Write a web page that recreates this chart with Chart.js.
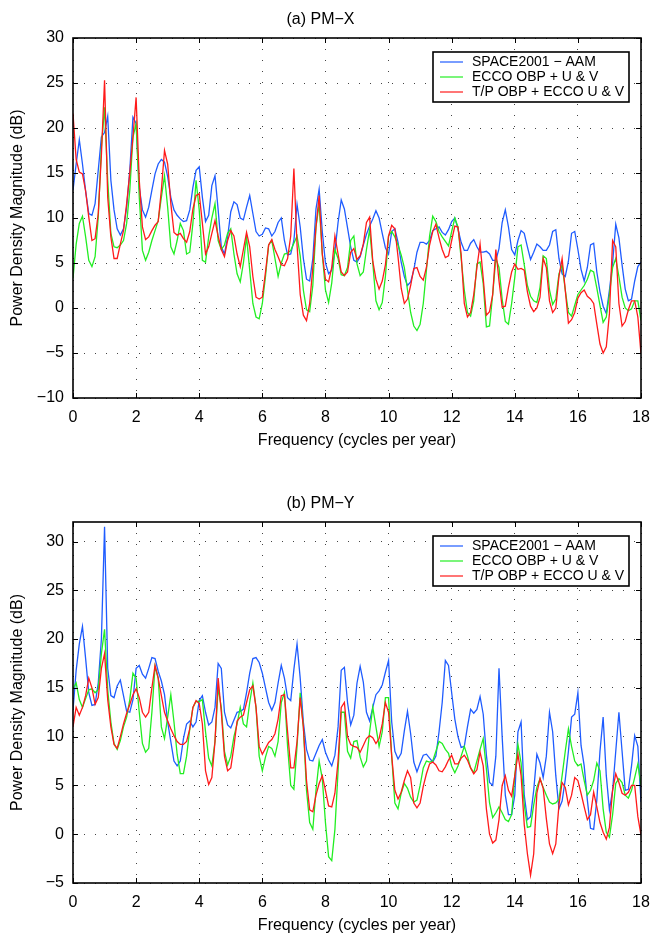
<!DOCTYPE html>
<html>
<head>
<meta charset="utf-8">
<script src="https://cdn.jsdelivr.net/npm/chart.js@4"></script>
<style>
  body { margin: 0; background: #fff; }
  canvas { display: block; }
</style>
</head>
<body>
<canvas id="pmx" width="652" height="468"></canvas>
<canvas id="pmy" width="652" height="468"></canvas>
<script>
// frequency grid, cycles per year (0 .. 18, step 0.1)
const freq = Array.from({ length: 181 }, (_, i) => i / 10);

const seriesNames = ['SPACE2001 \u2212 AAM', 'ECCO OBP + U & V', 'T/P OBP + ECCO U & V'];

// (a) PM-X, dB
const pmxSpace = [
  13.1,16.0,18.7,16.0,13.0,10.5,10.3,11.6,15.3,19.0,
  19.5,21.3,14.2,10.9,8.8,8.1,8.8,11.2,15.3,21.2,
  20.5,13.4,10.9,10.1,11.2,13.1,14.9,16.0,16.5,16.2,
  14.6,12.3,10.9,10.3,9.9,9.6,9.7,10.9,13.4,15.3,
  15.7,12.3,9.6,10.3,13.6,14.7,10.9,6.8,6.0,7.9,
  10.7,11.8,11.5,10.0,9.8,11.2,12.5,10.5,8.5,8.0,
  8.2,8.9,8.8,8.0,8.5,9.5,10.0,7.5,5.9,6.0,
  7.5,11.5,9.0,5.5,3.2,3.0,5.5,11.0,13.2,8.5,
  5.0,3.8,4.2,6.3,9.5,12.0,11.0,8.9,6.8,5.3,
  5.1,5.7,7.0,8.2,9.1,9.9,10.8,10.0,8.3,6.7,
  6.0,8.5,8.8,7.3,5.1,3.5,2.5,2.9,4.2,6.2,
  7.3,7.3,7.1,7.5,8.6,8.8,9.0,8.4,8.1,8.7,
  9.6,10.0,8.8,7.3,6.4,6.4,7.2,7.6,6.8,6.2,
  6.2,6.3,6.0,5.3,5.3,6.6,9.5,10.9,9.0,6.5,
  5.9,7.5,8.6,8.3,6.8,5.4,6.2,7.1,6.8,6.4,
  6.4,7.0,8.5,8.7,5.5,3.8,3.5,5.2,8.3,8.5,
  6.5,4.3,3.0,4.5,7.0,7.2,4.0,1.8,0.2,-0.6,
  2.0,5.0,9.3,7.8,4.8,2.1,0.8,1.0,3.0,4.6,
  5.1
];
const pmxEcco = [
  3.3,7.1,9.4,10.2,7.9,5.3,4.6,5.7,10.1,17.9,
  22.3,14.2,8.3,6.8,6.7,7.0,7.5,9.4,13.1,19.0,
  20.5,12.3,6.4,5.3,6.2,7.5,8.6,9.7,12.3,14.7,
  11.2,6.8,6.0,7.5,9.4,8.6,6.0,6.2,9.4,14.2,
  10.9,5.3,5.1,7.9,10.0,11.6,7.5,6.5,7.0,8.3,
  8.8,6.0,3.8,2.9,5.0,7.9,4.2,0.5,-1.0,-1.2,
  0.5,3.5,7.0,7.5,5.5,3.5,5.0,6.0,6.1,6.4,
  7.2,8.0,5.8,2.0,-0.2,-0.4,2.5,9.0,11.5,6.0,
  2.0,0.6,2.8,6.5,5.5,3.7,3.6,4.5,7.5,8.0,
  4.9,3.6,4.0,6.5,8.7,5.0,0.8,-0.2,0.6,3.5,
  8.0,8.5,7.9,7.0,5.9,4.5,2.0,-0.5,-2.0,-2.5,
  -1.8,0.5,4.2,8.0,10.2,9.6,8.5,7.9,7.4,6.9,
  8.5,10.0,9.0,5.5,2.0,-0.5,-0.9,0.8,4.9,5.1,
  2.7,-2.1,-2.0,1.5,5.5,4.5,1.0,-1.5,-1.8,0.5,
  3.4,6.8,7.0,4.8,2.5,1.3,0.8,0.6,2.3,5.8,
  5.5,2.0,0.4,1.0,3.8,4.8,2.0,-0.5,-0.9,0.3,
  1.5,2.0,2.5,3.2,4.2,4.0,2.2,0.3,-1.6,-1.0,
  1.5,4.5,5.5,3.5,1.2,0.0,-0.3,-0.1,0.8,0.8,
  -1.4
];
const pmxTp = [
  21.6,16.5,15.1,14.9,13.0,10.1,7.5,7.7,10.5,17.0,
  25.3,12.3,7.9,5.5,5.5,7.1,8.6,11.6,15.0,19.0,
  23.4,14.2,9.0,7.6,7.9,8.6,9.2,9.6,13.1,17.5,
  16.0,11.6,8.4,8.1,8.3,7.7,7.3,8.5,11.0,12.5,
  12.7,9.4,6.0,6.8,8.3,9.7,8.0,6.5,5.7,7.5,
  8.6,8.0,6.0,4.6,6.5,8.4,6.8,3.5,1.2,1.0,
  1.2,4.0,7.0,7.6,6.5,5.7,4.8,4.7,5.5,8.0,
  15.5,7.0,1.5,-0.8,-1.4,0.5,4.5,9.0,12.5,6.0,
  3.2,2.9,4.5,8.0,6.0,4.0,3.6,4.0,6.2,6.6,
  5.4,5.8,7.1,9.5,10.1,5.2,3.2,2.1,3.0,4.8,
  8.0,9.2,8.8,5.7,2.2,0.5,1.0,2.5,4.4,4.5,
  3.5,3.1,4.5,7.0,8.5,9.3,7.8,6.5,5.6,5.8,
  7.5,9.1,9.0,6.0,0.5,-1.0,-0.5,1.5,4.5,7.1,
  3.3,-0.8,-0.4,1.5,6.5,3.0,0.1,0.2,2.3,4.0,
  4.9,4.3,4.4,4.2,1.8,0.2,-0.4,0.0,1.2,5.5,
  4.5,0.8,-0.5,0.0,3.5,5.5,2.0,-1.7,-1.3,-0.5,
  1.1,1.7,2.0,1.3,1.0,0.5,-1.8,-4.0,-5.0,-4.3,
  -0.6,7.5,6.8,0.5,-2.0,-1.5,-0.2,0.8,0.8,-1.0,
  -5.1
];

// (b) PM-Y, dB
const pmySpace = [
  12.7,16.8,19.5,21.3,18.0,14.5,13.2,13.3,15.5,20.0,
  31.5,17.0,14.2,14.0,15.2,15.8,14.2,12.6,12.5,13.8,
  17.0,17.3,16.4,16.0,17.0,18.1,18.0,16.7,15.7,14.3,
  11.5,9.5,7.5,7.0,7.5,9.8,11.3,11.6,11.0,11.5,
  13.7,14.2,12.5,11.2,11.5,13.0,17.5,17.0,12.5,11.2,
  10.9,11.7,12.5,12.6,12.8,14.5,16.5,18.0,18.1,17.6,
  16.5,15.0,13.5,12.7,13.5,15.5,17.3,16.0,14.0,13.7,
  16.9,19.5,16.0,11.5,8.7,7.6,7.5,8.3,9.1,9.7,
  8.4,7.6,7.0,8.1,11.0,16.8,17.1,13.5,11.2,12.2,
  15.5,17.2,15.6,12.5,11.6,13.0,14.3,14.7,15.3,16.6,
  17.8,11.5,8.5,7.7,8.3,10.6,12.6,10.3,7.4,6.4,
  7.3,8.1,8.2,7.8,7.4,8.0,10.5,13.5,17.8,17.3,
  14.5,11.8,10.0,8.9,9.0,11.0,12.8,12.4,12.8,14.1,
  12.3,8.1,5.3,5.0,8.0,17.0,10.0,4.0,2.0,2.0,
  4.0,10.5,11.5,4.0,1.5,1.8,4.5,8.2,7.3,5.8,
  8.0,12.5,10.5,6.0,2.6,3.4,5.6,8.5,12.0,12.3,
  14.5,9.1,7.0,3.5,0.6,0.5,3.5,8.5,12.0,6.0,
  2.5,4.5,8.5,12.5,8.5,4.5,4.6,7.0,10.1,9.0,
  3.3
];
const pmyEcco = [
  14.9,15.5,13.8,13.0,13.9,14.8,14.9,14.5,14.8,18.5,
  21.0,14.8,11.5,9.3,8.7,9.6,11.0,12.0,13.8,16.5,
  16.0,12.5,9.3,8.4,8.8,12.5,17.2,16.0,11.0,9.8,
  12.0,14.3,11.5,8.2,6.2,6.2,8.0,10.8,13.0,13.6,
  13.6,13.8,10.5,7.8,7.0,9.5,15.0,13.0,8.5,7.1,
  8.0,10.0,11.3,13.0,11.3,11.0,13.5,15.5,13.0,8.0,
  6.5,7.9,9.0,8.8,8.0,9.5,13.5,14.5,9.0,5.0,
  4.6,9.0,14.5,11.0,4.5,1.2,0.5,4.5,7.5,5.7,
  1.2,-2.3,-2.7,0.5,6.5,12.5,12.5,8.5,7.8,9.5,
  9.6,7.9,6.9,7.5,10.5,13.0,11.0,9.0,10.5,14.0,
  14.0,8.0,3.2,2.6,4.2,5.2,4.7,3.8,3.3,3.5,
  5.0,6.8,7.5,7.4,7.5,8.5,9.5,9.3,8.7,8.3,
  7.0,6.3,7.0,8.0,9.0,8.0,6.8,6.3,7.5,8.7,
  9.8,6.7,3.2,1.7,2.2,2.8,2.2,1.5,1.3,2.0,
  6.0,9.2,7.3,3.0,0.7,0.8,3.0,4.8,5.7,4.8,
  4.0,3.3,3.1,3.2,3.6,6.0,8.5,10.8,9.0,7.5,
  7.0,7.2,5.5,4.0,4.5,5.5,7.3,6.5,2.6,0.2,
  -0.3,2.0,5.2,5.7,5.3,4.0,3.7,4.5,5.8,7.2,
  5.0
];
const pmyTp = [
  11.0,13.0,12.2,13.0,14.2,16.0,15.0,13.3,14.0,17.0,
  18.5,13.8,11.0,9.2,8.8,10.0,11.3,12.4,13.3,14.3,
  14.9,14.0,12.5,12.0,12.5,15.0,17.3,16.0,14.2,12.5,
  11.6,10.8,10.1,9.5,9.2,9.2,9.5,10.8,13.0,13.7,
  13.4,11.3,6.5,5.1,5.8,9.5,16.0,12.5,8.0,6.5,
  6.8,9.0,11.6,12.0,12.2,13.5,14.8,15.2,13.0,9.0,
  8.2,8.8,9.4,9.7,10.3,11.8,14.2,14.3,10.5,6.8,
  6.8,9.5,14.0,11.0,5.5,2.5,2.3,4.0,5.2,6.0,
  4.5,2.9,2.8,4.2,7.5,13.0,13.5,10.0,9.2,9.0,
  8.9,8.4,9.1,9.8,10.1,9.9,9.3,9.8,11.3,13.5,
  12.5,8.0,4.5,3.6,4.3,5.5,6.5,5.8,3.2,2.7,
  3.2,4.9,6.2,7.2,7.4,7.1,6.5,6.4,6.9,7.6,
  8.1,7.2,7.2,7.8,8.1,7.6,6.8,6.2,6.6,8.4,
  7.0,2.6,0.0,-0.9,-0.6,1.5,5.0,6.0,4.5,3.9,
  6.0,8.2,6.0,1.0,-2.0,-4.2,-2.0,4.2,5.7,4.7,
  1.6,-1.0,-2.0,-1.0,3.0,5.3,4.8,3.0,4.0,5.8,
  5.5,4.2,2.8,1.5,2.0,4.3,2.8,1.2,0.2,-0.5,
  0.7,4.5,6.2,5.3,4.2,4.0,4.3,5.0,5.0,1.8,
  -0.1
];

const colors = ['#1f5cff', '#22ee22', '#ff1a1a'];
const FONT = '"Liberation Sans", Arial, Helvetica, sans-serif';
Chart.defaults.font.family = FONT;
Chart.defaults.color = '#000';

// MATLAB-like box with inward ticks
const frame = {
  id: 'frame',
  afterDraw(chart) {
    const { ctx, chartArea: a, scales } = chart;
    ctx.save();
    ctx.strokeStyle = '#000';
    ctx.lineWidth = 1;
    ctx.beginPath();
    scales.x.ticks.forEach(t => {
      const px = Math.round(scales.x.getPixelForValue(t.value)) + 0.5;
      ctx.moveTo(px, a.bottom); ctx.lineTo(px, a.bottom - 5);
      ctx.moveTo(px, a.top); ctx.lineTo(px, a.top + 5);
    });
    scales.y.ticks.forEach(t => {
      const py = Math.round(scales.y.getPixelForValue(t.value)) + 0.5;
      ctx.moveTo(a.left, py); ctx.lineTo(a.left + 5, py);
      ctx.moveTo(a.right, py); ctx.lineTo(a.right - 5, py);
    });
    ctx.stroke();
    ctx.lineWidth = 1.6;
    ctx.strokeRect(a.left, a.top, a.right - a.left, a.bottom - a.top);
    ctx.restore();
  }
};

// boxed legend inside the top right corner of the axes
const boxLegend = {
  id: 'boxLegend',
  afterDatasetsDraw(chart) {
    const { ctx, chartArea: a } = chart;
    const w = 196, h = 50;
    const x = a.right - 12 - w, y = a.top + 14;
    ctx.save();
    ctx.fillStyle = '#fff';
    ctx.fillRect(x, y, w, h);
    ctx.lineWidth = 1.6;
    ctx.strokeStyle = '#000';
    ctx.strokeRect(x, y, w, h);
    ctx.font = '14px ' + FONT;
    ctx.textBaseline = 'middle';
    chart.data.datasets.forEach((ds, i) => {
      const ly = y + 10 + i * 15;
      ctx.strokeStyle = ds.borderColor;
      ctx.lineWidth = 1.2;
      ctx.beginPath();
      ctx.moveTo(x + 7, ly);
      ctx.lineTo(x + 30, ly);
      ctx.stroke();
      ctx.fillStyle = '#000';
      ctx.fillText(ds.label, x + 39, ly);
    });
    ctx.restore();
  }
};

function makeChart(id, title, values, yMin, yMax, pad) {
  const ctx = document.getElementById(id).getContext('2d');
  return new Chart(ctx, {
    type: 'line',
    data: {
      labels: freq,
      datasets: values.map((v, i) => ({
        label: seriesNames[i],
        data: v,
        borderColor: colors[i],
        borderWidth: 1.3,
        pointRadius: 0,
        tension: 0,
        fill: false,
        order: 3 - i
      }))
    },
    options: {
      responsive: false,
      animation: false,
      layout: { padding: { left: 0, right: 11, top: 0, bottom: 0 } },
      plugins: {
        legend: { display: false },
        tooltip: { enabled: false },
        title: {
          display: true,
          text: title,
          font: { size: 16, weight: 'normal', lineHeight: 1.25 },
          color: '#000',
          padding: { top: pad.titleTop, bottom: 8 }
        }
      },
      scales: {
        x: {
          type: 'linear',
          min: 0,
          max: 18,
          afterFit: s => { s.height = pad.xHeight; s.paddingLeft = 0; s.paddingRight = 0; },
          ticks: { stepSize: 2, padding: 10, font: { size: 16 }, maxRotation: 0 },
          grid: { color: '#444', drawTicks: false },
          border: { display: false, dash: [1, 10] },
          title: {
            display: true,
            text: 'Frequency (cycles per year)',
            font: { size: 16 },
            padding: { top: 0, bottom: pad.xTitleBottom }
          }
        },
        y: {
          min: yMin,
          max: yMax,
          afterFit: s => { s.width = 73; },
          ticks: {
            stepSize: 5,
            includeBounds: false,
            padding: 9,
            font: { size: 16 },
            callback: v => String(v).replace('-', '\u2212')
          },
          grid: { color: '#444', drawTicks: false },
          border: { display: false, dash: [1, 10] },
          title: {
            display: true,
            text: 'Power Density Magnitude (dB)',
            font: { size: 16 },
            padding: { top: 8, bottom: 0 }
          }
        }
      }
    },
    plugins: [boxLegend, frame]
  });
}

makeChart('pmx', '(a) PM\u2212X', [pmxSpace, pmxEcco, pmxTp], -10, 30,
  { titleTop: 10, xHeight: 70, xTitleBottom: 18 });
makeChart('pmy', '(b) PM\u2212Y', [pmySpace, pmyEcco, pmyTp], -5, 32,
  { titleTop: 26, xHeight: 53, xTitleBottom: 1 });
</script>
</body>
</html>
